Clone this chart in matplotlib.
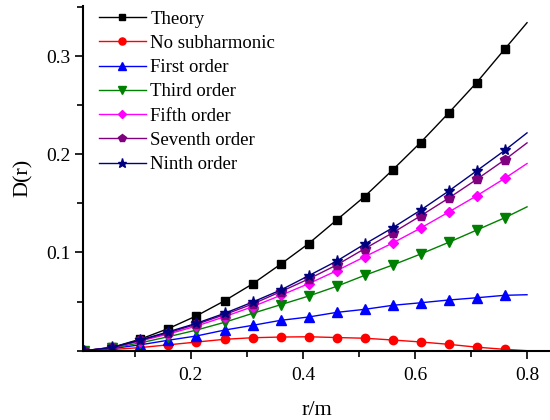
import matplotlib
matplotlib.use("Agg")
import matplotlib.pyplot as plt
from matplotlib.ticker import MultipleLocator

plt.rcParams["font.family"] = ["Liberation Serif", "DejaVu Serif"]

# radial distance (m); the final point closes each curve without a marker
r = [0.01, 0.06, 0.11, 0.16, 0.21, 0.26, 0.31, 0.36, 0.41, 0.46, 0.51,
     0.56, 0.61, 0.66, 0.71, 0.76, 0.80]

theory = [0.0, 0.0035, 0.0118, 0.0226, 0.0355, 0.0508, 0.068, 0.088, 0.109,
          0.133, 0.157, 0.184, 0.212, 0.242, 0.273, 0.307, 0.334]
no_sub = [0.0, 0.0012, 0.0032, 0.006, 0.0088, 0.0116, 0.0132, 0.0139, 0.0142,
          0.0134, 0.0127, 0.0109, 0.0089, 0.0065, 0.0036, 0.0014, 0.0]
first = [0.0, 0.0022, 0.006, 0.0107, 0.015, 0.021, 0.0258, 0.0309, 0.0343,
         0.039, 0.0421, 0.0462, 0.0488, 0.0516, 0.0539, 0.0564, 0.057]
third = [0.0, 0.0028, 0.008, 0.0143, 0.021, 0.0289, 0.038, 0.0468, 0.0556,
         0.0655, 0.0767, 0.0872, 0.0984, 0.1103, 0.1228, 0.1353, 0.1465]
fifth = [0.0, 0.003, 0.0099, 0.017, 0.0251, 0.0346, 0.0448, 0.0563, 0.0682,
         0.0814, 0.0956, 0.1096, 0.1248, 0.1411, 0.1577, 0.1754, 0.1906]
seventh = [0.0, 0.0032, 0.0106, 0.0183, 0.0269, 0.0367, 0.0475, 0.06, 0.073,
           0.0872, 0.1038, 0.120, 0.1373, 0.1553, 0.1744, 0.1943, 0.2116]
ninth = [0.0, 0.0033, 0.011, 0.0193, 0.0279, 0.038, 0.0495, 0.0617, 0.0763,
         0.0912, 0.1085, 0.1251, 0.1431, 0.1625, 0.1831, 0.2039, 0.2218]

series = [
    ("Theory", theory, "#000000", "s", 5.5),
    ("No subharmonic", no_sub, "#FF0000", "o", 6),
    ("First order", first, "#0000FF", "^", 6.5),
    ("Third order", third, "#008000", "v", 6.5),
    ("Fifth order", fifth, "#FF00FF", "D", 5),
    ("Seventh order", seventh, "#800080", "p", 7),
    ("Ninth order", ninth, "#000080", "*", 8),
]

fig = plt.figure(figsize=(5.5, 4.2), dpi=100)
ax = fig.add_axes([0.1515, 0.165, 0.8485, 0.8207])

marked = list(range(len(r) - 1))
for label, vals, color, mk, ms in series:
    ax.plot(r, vals, color=color, lw=1.0, marker=mk, ms=ms,
            markevery=marked, label=label)

ax.set_xlim(0.008, 0.841)
ax.set_ylim(0.0, 0.351)

ax.xaxis.set_minor_locator(MultipleLocator(0.1))
ax.yaxis.set_minor_locator(MultipleLocator(0.05))
ax.set_xticks([0.2, 0.4, 0.6, 0.8])
ax.set_yticks([0.1, 0.2, 0.3])

for side in ("top", "right"):
    ax.spines[side].set_visible(False)
for side in ("left", "bottom"):
    ax.spines[side].set_linewidth(1.5)

ax.tick_params(which="major", direction="out", length=6, width=1.2,
               labelsize=14)
ax.tick_params(axis="x", which="major", pad=6)
ax.tick_params(which="minor", direction="out", length=4, width=1.2)

ax.set_xlabel("r/m", fontsize=16, labelpad=12)
ax.set_ylabel("D(r)", fontsize=16, labelpad=9)

ax.legend(loc="upper left", bbox_to_anchor=(0.005, 1.025), frameon=False,
          fontsize=13.5, handlelength=2.5, handletextpad=0.25,
          labelspacing=0.38, borderaxespad=0.3, markerscale=0.85)

fig.savefig("out.png", dpi=100)
